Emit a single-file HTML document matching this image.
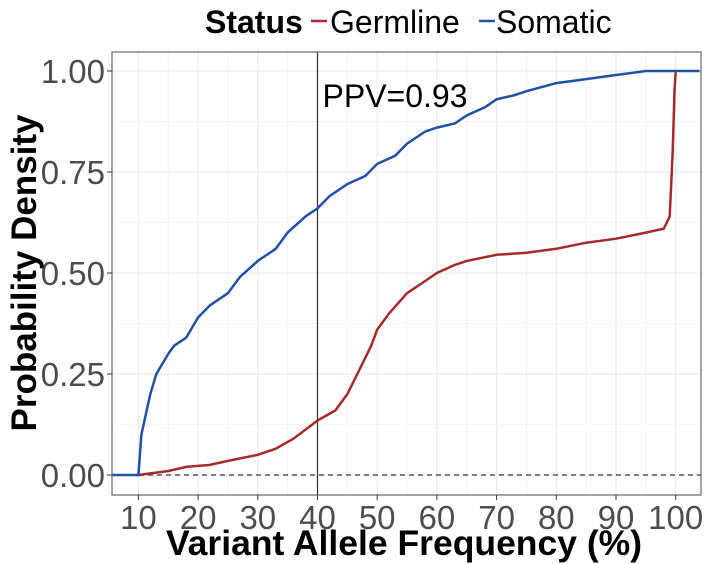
<!DOCTYPE html>
<html><head><meta charset="utf-8"><style>
body{margin:0;background:#fff;}
svg{display:block;font-family:"Liberation Sans",sans-serif;}
</style></head><body>
<svg id="chart" width="706" height="564">
<g id="grid"></g>
<g id="lines"></g>
<g id="axes"></g>
</svg>
<script>
const xTicks=[10,20,30,40,50,60,70,80,90,100];
const yTicks=[0,0.25,0.5,0.75,1.0];
const yTickLabels=["0.00","0.25","0.50","0.75","1.00"];
const somaticX=[5.6,10,10.5,12,13,15,16,18,20,22,25,27,30,33,35,38,40,42,45,48,50,53,55,58,60,63,65,68,70,73,75,80,85,90,95,104];
const somaticY=[0,0,0.1,0.2,0.25,0.3,0.32,0.34,0.39,0.42,0.45,0.49,0.53,0.56,0.6,0.64,0.66,0.69,0.72,0.74,0.77,0.79,0.82,0.85,0.86,0.87,0.89,0.91,0.93,0.94,0.95,0.97,0.98,0.99,1.0,1.0];
const germX=[10,15,18,22,25,30,33,36,40,43,45,47,49,50,52,55,58,60,63,65,70,75,80,85,90,95,98,99,99.5,99.8,100];
const germY=[0,0.01,0.02,0.025,0.035,0.05,0.065,0.09,0.135,0.16,0.2,0.26,0.32,0.36,0.4,0.45,0.48,0.5,0.52,0.53,0.545,0.55,0.56,0.575,0.585,0.6,0.61,0.64,0.8,0.95,1.0];
const ppvX=40, ppvLabel="PPV=0.93";
const L=112,R=701,T=52,B=495;
const xs=v=>78.7+v*5.97;
const ys=v=>475-v*404;
const NS="http://www.w3.org/2000/svg";
function mk(parent,tag,attrs){const e=document.createElementNS(NS,tag);for(const k in attrs)e.setAttribute(k,attrs[k]);document.getElementById(parent).appendChild(e);return e;}
let bg=mk('grid','rect',{x:L,y:T,width:R-L,height:B-T,fill:'#fff'});


for(let i=0;i<xTicks.length;i++){
  const v=xTicks[i];
  let m=mk('grid','line',{x1:xs(v-5),x2:xs(v-5),y1:T,y2:B,stroke:'#f4f4f4','stroke-width':1});
  
  
  let g=mk('grid','line',{x1:xs(v),x2:xs(v),y1:T,y2:B,stroke:'#ebebeb','stroke-width':1.2});
  
  
}
for(let i=0;i<yTicks.length;i++){
  const v=yTicks[i];
  if(i<yTicks.length-1){let m=mk('grid','line',{x1:L,x2:R,y1:ys(v+0.125),y2:ys(v+0.125),stroke:'#f4f4f4','stroke-width':1});
  
  }
  let g=mk('grid','line',{x1:L,x2:R,y1:ys(v),y2:ys(v),stroke:'#ebebeb','stroke-width':1.2});
  
  
}
let z=mk('lines','line',{x1:L,x2:R,y1:ys(0),y2:ys(0),stroke:'#555','stroke-width':1.5,'stroke-dasharray':'5,4'});


let vl=mk('lines','line',{x1:xs(ppvX),x2:xs(ppvX),y1:T,y2:B,stroke:'#333','stroke-width':1.2});


function path(xa,ya){return xa.map((x,i)=>(i?'L':'M')+xs(x).toFixed(1)+','+ys(ya[i]).toFixed(1)).join('');}
let gp=mk('lines','path',{d:path(germX,germY),fill:'none',stroke:'#a52a2a','stroke-width':2.5});


let sp=mk('lines','path',{d:path(somaticX,somaticY),fill:'none',stroke:'#2050a8','stroke-width':2.5});


let pt=mk('lines','text',{x:xs(ppvX)+5,y:107,'font-size':32,fill:'#000'});
pt.textContent=ppvLabel;


let bd=mk('axes','rect',{x:L,y:T,width:R-L,height:B-T,fill:'none',stroke:'#666','stroke-width':1.2});


for(let i=0;i<xTicks.length;i++){
  const v=xTicks[i];
  let t=mk('axes','line',{x1:xs(v),x2:xs(v),y1:B,y2:B+5,stroke:'#333'});
  
  
  let l=mk('axes','text',{x:xs(v),y:529,'font-size':33,fill:'#4d4d4d','text-anchor':'middle'});
  l.textContent=v;
  
  
}
for(let i=0;i<yTicks.length;i++){
  const v=yTicks[i];
  let t=mk('axes','line',{x1:L-5,x2:L,y1:ys(v),y2:ys(v),stroke:'#333'});
  
  
  let l=mk('axes','text',{x:L-7,y:ys(v)+12,'font-size':33,fill:'#4d4d4d','text-anchor':'end'});
  l.textContent=yTickLabels[i];
  
  
}
</script>
<svg style="position:absolute;left:0;top:0" width="706" height="564">
<text x="404" y="555" font-size="35.5" font-weight="bold" text-anchor="middle" font-family="Liberation Sans,sans-serif">Variant Allele Frequency (%)</text>
<text transform="translate(36,273) rotate(-90)" font-size="35" font-weight="bold" text-anchor="middle" font-family="Liberation Sans,sans-serif">Probability Density</text>
<g font-family="Liberation Sans,sans-serif" font-size="32">
<text x="205" y="33" font-weight="bold">Status</text>
<line x1="311" x2="327" y1="21" y2="21" stroke="#a52a2a" stroke-width="2.5"/>
<text x="330" y="33">Germline</text>
<line x1="479" x2="495" y1="21" y2="21" stroke="#2050a8" stroke-width="2.5"/>
<text x="496" y="33">Somatic</text>
</g>
</svg>
</body></html>
